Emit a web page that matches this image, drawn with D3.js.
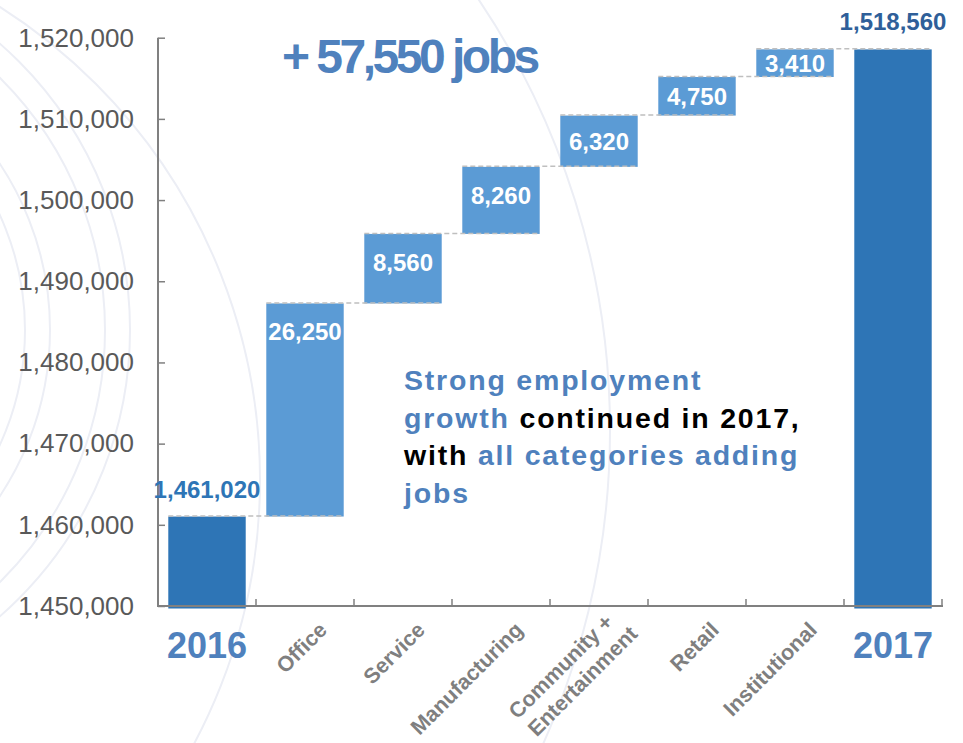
<!DOCTYPE html>
<html>
<head>
<meta charset="utf-8">
<script src="https://cdn.jsdelivr.net/npm/d3@7"></script>
<style>
  body { margin: 0; background: #fff; }
  svg { display: block; font-family: "Liberation Sans", Arial, sans-serif; }
</style>
</head>
<body>
<div id="chart"></div>
<script>
// data
var categories = ["2016", "Office", "Service", "Manufacturing", "Community +|Entertainment", "Retail", "Institutional", "2017"]
var startTotal = 1461020
var increments = [26250, 8560, 8260, 6320, 4750, 3410]
var endTotal = 1518560
var yTicks = [1450000, 1460000, 1470000, 1480000, 1490000, 1500000, 1510000, 1520000]

var width = 963, height = 743

var svg = d3.select("#chart").append("svg")
    .attr("width", width)
    .attr("height", height)

// faint background arcs
var arcs = [
  {cx: -250, cy: 330, r: 380},
  {cx: -250, cy: 330, r: 355},
  {cx: -250, cy: 330, r: 300},
  {cx: -250, cy: 330, r: 275},
  {cx: -300, cy: 480, r: 560},
  {cx: -160, cy: 430, r: 770}
]
svg.append("g").selectAll("circle")
  .data(arcs)
  .join("circle")
    .attr("cx", d => d.cx)
    .attr("cy", d => d.cy)
    .attr("r", d => d.r)
    .attr("fill", "none")
    .attr("stroke", "#eceef5")
    .attr("stroke-width", 2)

var x = d3.scaleBand()
    .domain(categories)
    .range([158, 942])
    .paddingInner(0.21)
    .paddingOuter(0.105)

var y = d3.scaleLinear()
    .domain([1450000, 1520000])
    .range([606, 37.7])

// build waterfall rows
var rows = []
rows.push({cat: categories[0], lo: 1450000, hi: startTotal, total: true, label: startTotal})
var run = startTotal
increments.forEach(function (v, i) {
  rows.push({cat: categories[i + 1], lo: run, hi: run + v, total: false, label: v})
  run += v
})
rows.push({cat: categories[7], lo: 1450000, hi: endTotal, total: true, label: endTotal})

var fmt = d3.format(",")

// connectors
var conn = []
for (var i = 0; i < rows.length - 1; i++) {
  conn.push({a: rows[i], b: rows[i + 1], level: rows[i].hi})
}

// bars
svg.append("g").selectAll("rect")
  .data(rows)
  .join("rect")
    .attr("x", d => x(d.cat))
    .attr("width", x.bandwidth())
    .attr("y", d => y(d.hi))
    .attr("height", d => d.total ? y(d.lo) - y(d.hi) + 2.5 : y(d.lo) - y(d.hi))
    .attr("fill", d => d.total ? "#2e75b6" : "#5b9bd5")

svg.append("g")
    .attr("stroke", "#bfbfbf")
    .attr("stroke-width", 1.5)
    .attr("stroke-dasharray", "5,3")
  .selectAll("line")
  .data(conn)
  .join("line")
    .attr("x1", d => x(d.a.cat))
    .attr("x2", d => x(d.b.cat) + x.bandwidth())
    .attr("y1", d => y(d.level) - 0.5)
    .attr("y2", d => y(d.level) - 0.5)

// axes
var yAxis = d3.axisLeft(y).tickValues(yTicks).tickSize(-7).tickPadding(24).tickFormat(fmt)
var gy = svg.append("g").attr("transform", "translate(158,0)").call(yAxis)
gy.select(".domain").remove()
gy.selectAll(".tick line").attr("stroke", "#808080").attr("stroke-width", 1.5)
gy.selectAll(".tick text")
    .attr("font-size", 26)
    .attr("fill", "#595959")
    .attr("font-family", "Liberation Sans, Arial, sans-serif")

svg.append("line")
    .attr("x1", 158).attr("x2", 158)
    .attr("y1", y(1520000)).attr("y2", 607)
    .attr("stroke", "#808080").attr("stroke-width", 2)

// x axis: ticks at band boundaries
var bounds = categories.map(c => x(c) - x.step() * x.paddingInner() / 2).slice(1)
bounds.push(942)
svg.append("line")
    .attr("x1", 157).attr("x2", 943)
    .attr("y1", 606).attr("y2", 606)
    .attr("stroke", "#808080").attr("stroke-width", 2)
svg.append("g").selectAll("line")
  .data(bounds)
  .join("line")
    .attr("x1", d => d).attr("x2", d => d)
    .attr("y1", 606).attr("y2", 599)
    .attr("stroke", "#808080").attr("stroke-width", 1.5)

// category labels
var cx = d => x(d) + x.bandwidth() / 2
svg.append("g").selectAll("text")
  .data(categories.filter(c => c != "2016" && c != "2017"))
  .join("text")
    .attr("transform", function (d) {
      var two = d.indexOf("|") > -1
      return "translate(" + (cx(d) + (two ? 10 : 18)) + "," + (two ? 618 : 626) + ") rotate(-45)"
    })
    .attr("text-anchor", "end")
    .attr("font-size", 21.5)
    .attr("font-weight", "bold")
    .attr("fill", "#7f7f7f")
    .each(function (d) {
      var parts = d.split("|")
      var t = d3.select(this)
      parts.forEach(function (p, i) {
        t.append("tspan")
          .attr("x", i * 9)
          .attr("dy", i == 0 ? "0.35em" : "1.2em")
          .text(p)
      })
    })

svg.append("g").selectAll("text")
  .data(["2016", "2017"])
  .join("text")
    .attr("x", d => cx(d))
    .attr("y", 658)
    .attr("text-anchor", "middle")
    .attr("font-size", 36)
    .attr("font-weight", "bold")
    .attr("fill", "#4f81bd")
    .text(d => d)

// value labels
svg.append("g").selectAll("text")
  .data(rows)
  .join("text")
    .attr("x", d => cx(d.cat))
    .attr("y", d => d.total ? y(d.hi) - 19 : y(d.hi) + Math.min((y(d.lo) - y(d.hi)) / 2, 28))
    .attr("dy", d => d.total ? 0 : "0.36em")
    .attr("text-anchor", "middle")
    .attr("font-size", 24)
    .attr("font-weight", "bold")
    .attr("fill", d => d.total ? (d.cat == "2017" ? "#2f5f99" : "#2e75b6") : "#fff")
    .text(d => fmt(d.label))

// headline
svg.append("text")
    .attr("x", 282)
    .attr("y", 73)
    .attr("font-size", 48)
    .attr("font-weight", "bold")
    .attr("letter-spacing", -3.5)
    .attr("fill", "#4f81bd")
    .text("+ " + fmt(d3.sum(increments)) + " jobs")

// annotation
var note = [
  [["Strong employment", "#4f81bd"]],
  [["growth ", "#4f81bd"], ["continued in 2017,", "#000"]],
  [["with ", "#000"], ["all categories adding", "#4f81bd"]],
  [["jobs", "#4f81bd"]]
]
var nt = svg.append("g")
note.forEach(function (line, i) {
  var t = nt.append("text")
      .attr("x", 404)
      .attr("y", 390 + i * 37.6)
      .attr("font-size", 28.5)
      .attr("font-weight", "bold")
      .attr("letter-spacing", 1.8)
  line.forEach(function (seg) {
    t.append("tspan").attr("fill", seg[1]).text(seg[0])
  })
})
</script>
</body>
</html>
